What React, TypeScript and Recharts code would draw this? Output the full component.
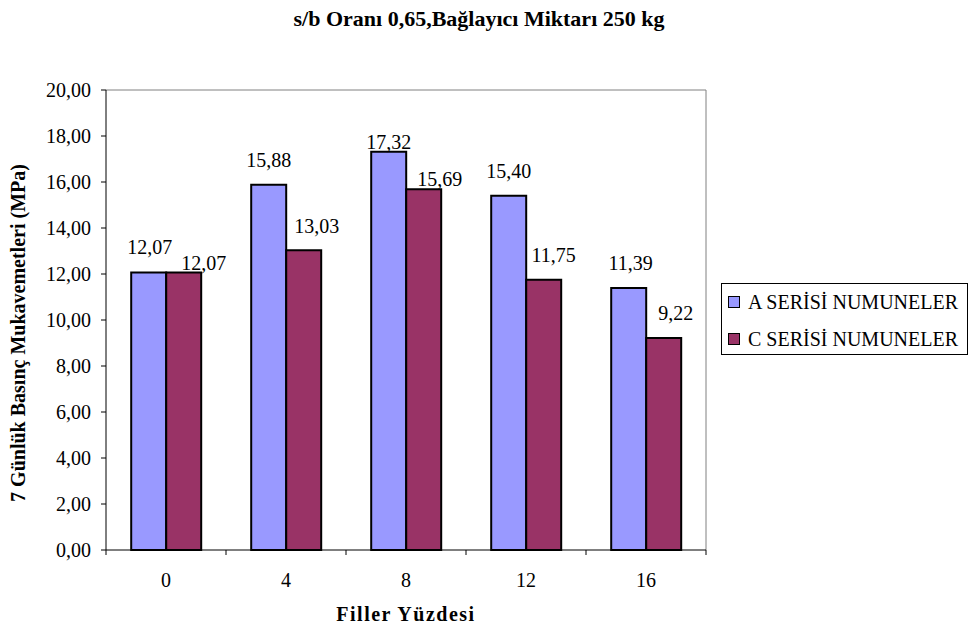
import React from "react";
import {
  BarChart,
  Bar,
  XAxis,
  YAxis,
  Legend,
  LabelList,
  CartesianGrid,
} from "recharts";

const categories = ["0", "4", "8", "12", "16"];
const seriesA = [12.07, 15.88, 17.32, 15.4, 11.39];
const seriesC = [12.07, 13.03, 15.69, 11.75, 9.22];
const yTicks = [0, 2, 4, 6, 8, 10, 12, 14, 16, 18, 20];

const seriesNames = ["A SERİSİ NUMUNELER", "C SERİSİ NUMUNELER"];

// small label nudges (dx, dy) so the value tags sit like the hand-placed ones
const labelNudgeA: [number, number][] = [
  [1, 0],
  [0, 0],
  [0, 15],
  [0, 0],
  [2, 0],
];
const labelNudgeC: [number, number][] = [
  [20, 16],
  [13, 1],
  [16, 15],
  [10, 0],
  [12, 0],
];

const data = categories.map((c, i) => ({
  name: c,
  a: seriesA[i],
  c: seriesC[i],
}));

const FONT = '"Liberation Serif", "Times New Roman", serif';
const BLUE = "#9999FF";
const PLUM = "#993366";

const fmt = (v: number) => v.toFixed(2).replace(".", ",");

const valueLabel =
  (nudges: [number, number][]) =>
  (props: any) => {
    const { x, y, width, value, index } = props;
    const [dx, dy] = nudges[index] ?? [0, 0];
    return (
      <text
        x={Number(x) + Number(width) / 2 + dx}
        y={Number(y) - 25 + dy}
        textAnchor="middle"
        dominantBaseline="central"
        fontSize={20}
        fontFamily={FONT}
        fill="#000"
      >
        {fmt(Number(value))}
      </text>
    );
  };

// category tick: label in the middle, tick marks on the band edges
function CategoryTick(props: any) {
  const { x, y, payload, index } = props;
  const half = payload?.offset || 60;
  const last = index === categories.length - 1;
  return (
    <g>
      <line x1={x - half} x2={x - half} y1={y} y2={y + 5} stroke="#000" />
      {last && (
        <line x1={x + half} x2={x + half} y1={y} y2={y + 5} stroke="#000" />
      )}
      <text
        x={x}
        y={y + 30}
        textAnchor="middle"
        dominantBaseline="central"
        fontSize={20}
        fontFamily={FONT}
        fill="#000"
      >
        {payload.value}
      </text>
    </g>
  );
}

function BoxLegend() {
  const colors = [BLUE, PLUM];
  return (
    <div
      style={{
        width: 247,
        height: 72,
        border: "1px solid #000",
        boxSizing: "border-box",
        background: "#fff",
        fontFamily: FONT,
        fontSize: 20,
        color: "#000",
      }}
    >
      {seriesNames.map((n, i) => (
        <div
          key={n}
          style={{
            display: "flex",
            alignItems: "center",
            height: 36,
            marginTop: i === 0 ? 0 : 1,
          }}
        >
          <span
            style={{
              display: "inline-block",
              width: 10,
              height: 10,
              border: "1px solid #000",
              background: colors[i],
              marginLeft: 6,
              marginRight: 8,
            }}
          />
          <span style={{ whiteSpace: "nowrap" }}>{n}</span>
        </div>
      ))}
    </div>
  );
}

export default function App() {
  return (
    <div
      style={{
        position: "absolute",
        left: 0,
        top: 0,
        width: 971,
        height: 629,
        background: "#fff",
        fontFamily: FONT,
      }}
    >
      <div
        style={{
          position: "absolute",
          left: 479,
          top: 19,
          transform: "translate(-50%, -50%)",
          whiteSpace: "nowrap",
          fontWeight: "bold",
          fontSize: 22,
        }}
      >
        s/b Oranı 0,65,Bağlayıcı Miktarı 250 kg
      </div>
      <div
        style={{
          position: "absolute",
          left: 18,
          top: 333,
          transform: "translate(-50%, -50%) rotate(-90deg)",
          whiteSpace: "nowrap",
          fontWeight: "bold",
          fontSize: 20,
        }}
      >
        7 Günlük Basınç Mukavemetleri (MPa)
      </div>
      <div
        style={{
          position: "absolute",
          left: 406,
          top: 614,
          transform: "translate(-50%, -50%)",
          whiteSpace: "nowrap",
          fontWeight: "bold",
          fontSize: 20,
          letterSpacing: 1.5,
        }}
      >
        Filler Yüzdesi
      </div>

      <BarChart
        width={971}
        height={629}
        data={data}
        margin={{ top: 90, right: 265, bottom: 29, left: 0 }}
        barCategoryGap="21%"
        barGap={0}
      >
        {/* gray frame on top and right of the plot */}
        <CartesianGrid
          stroke="#808080"
          horizontalCoordinatesGenerator={({ offset }: any) => [offset.top]}
          verticalCoordinatesGenerator={({ offset }: any) => [
            offset.left + offset.width,
          ]}
        />
        <XAxis
          dataKey="name"
          height={50}
          axisLine={{ stroke: "#000" }}
          tickLine={false}
          tickSize={0}
          tickMargin={0}
          tick={<CategoryTick />}
          interval={0}
        />
        <YAxis
          width={106}
          domain={[0, 20]}
          ticks={yTicks}
          interval={0}
          tickFormatter={fmt}
          axisLine={{ stroke: "#000" }}
          tickLine={{ stroke: "#000" }}
          tickSize={5}
          tickMargin={10}
          tick={{ fontSize: 20, fontFamily: FONT, fill: "#000" }}
        />
        <Legend
          layout="vertical"
          align="center"
          verticalAlign="middle"
          wrapperStyle={{ left: 721, top: 283, width: 247 }}
          content={<BoxLegend />}
        />
        <Bar
          dataKey="a"
          name={seriesNames[0]}
          fill={BLUE}
          stroke="#000"
          strokeWidth={2}
          isAnimationActive={false}
        >
          <LabelList dataKey="a" content={valueLabel(labelNudgeA)} />
        </Bar>
        <Bar
          dataKey="c"
          name={seriesNames[1]}
          fill={PLUM}
          stroke="#000"
          strokeWidth={2}
          isAnimationActive={false}
        >
          <LabelList dataKey="c" content={valueLabel(labelNudgeC)} />
        </Bar>
      </BarChart>
    </div>
  );
}
